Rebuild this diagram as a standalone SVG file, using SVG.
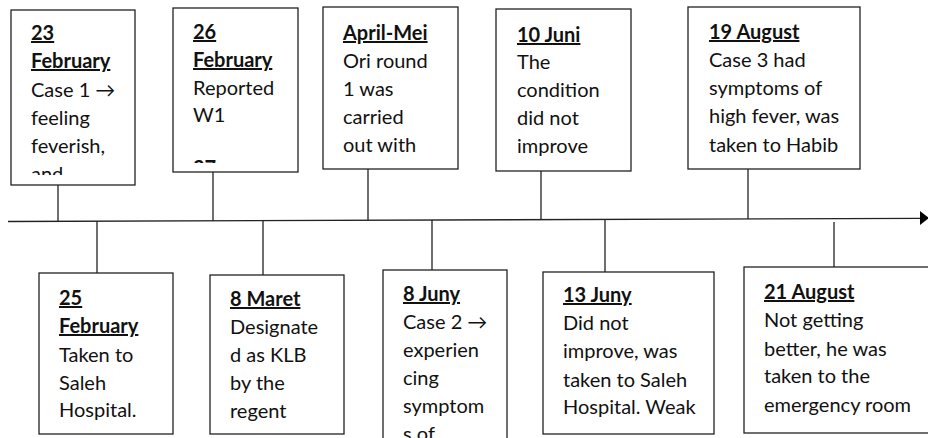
<svg xmlns="http://www.w3.org/2000/svg" width="928" height="438" viewBox="0 0 928 438">
<style>
.box{fill:#fff;stroke:#222;stroke-width:1.3}
.con{stroke:#222;stroke-width:1.3;fill:none}
text{font-family:Lato,"Open Sans",sans-serif;font-size:20px;fill:#111}
.h{font-weight:bold;text-decoration:underline}
</style>
<defs>
<marker id="arr" markerWidth="10" markerHeight="10" refX="8" refY="5" orient="auto" markerUnits="userSpaceOnUse"><path d="M0,-2 L10,5 L0,12 Z" fill="#000"/></marker>
<clipPath id="c1"><rect x="11" y="10" width="124" height="165"/></clipPath>
<clipPath id="c2"><rect x="173" y="8" width="125" height="155"/></clipPath>
<clipPath id="c8"><rect x="383" y="270" width="124" height="168"/></clipPath>
<clipPath id="c10"><rect x="744" y="267" width="190" height="158"/></clipPath>
</defs>
<g id="connectors">
<line class="con" x1="8" y1="221.5" x2="921" y2="218.3"/>
<path d="M920,211 L929,218 L920,225 Z" fill="#000"/>
<line class="con" x1="58" y1="185" x2="58" y2="221"/>
<line class="con" x1="213" y1="172" x2="213" y2="221"/>
<line class="con" x1="368" y1="169" x2="368" y2="220"/>
<line class="con" x1="541" y1="171" x2="541" y2="220"/>
<line class="con" x1="748" y1="169" x2="748" y2="219"/>
<line class="con" x1="97" y1="221" x2="97" y2="273"/>
<line class="con" x1="263" y1="221" x2="263" y2="275"/>
<line class="con" x1="432" y1="220" x2="432" y2="270"/>
<line class="con" x1="605" y1="220" x2="605" y2="272"/>
<line class="con" x1="834" y1="222" x2="834" y2="267"/>
</g>
<g id="n1">
<rect class="box" x="11" y="10" width="124" height="175"/>
<g clip-path="url(#c1)">
<text x="31" y="40" class="h">23</text>
<text x="31" y="68" class="h">February</text>
<text x="31" y="97">Case 1 →</text>
<text x="31" y="125">feeling</text>
<text x="31" y="153">feverish,</text>
<text x="31" y="181">and</text>
</g>
</g>
<g id="n2">
<rect class="box" x="173" y="8" width="125" height="164"/>
<g clip-path="url(#c2)">
<text x="193" y="39" class="h">26</text>
<text x="193" y="67" class="h">February</text>
<text x="193" y="95">Reported</text>
<text x="193" y="122">W1</text>
<text x="193" y="175" class="h">27</text>
</g>
</g>
<g id="n3">
<rect class="box" x="323" y="7" width="135" height="162"/>
<text x="343" y="40" class="h">April-Mei</text>
<text x="343" y="68">Ori round</text>
<text x="343" y="96">1 was</text>
<text x="343" y="124">carried</text>
<text x="343" y="152">out with</text>
</g>
<g id="n4">
<rect class="box" x="496" y="9" width="135" height="162"/>
<text x="517" y="42" class="h">10 Juni</text>
<text x="517" y="69">The</text>
<text x="517" y="97">condition</text>
<text x="517" y="125">did not</text>
<text x="517" y="153">improve</text>
</g>
<g id="n5">
<rect class="box" x="688" y="7" width="172" height="162"/>
<text x="709" y="39" class="h">19 August</text>
<text x="709" y="67">Case 3 had</text>
<text x="709" y="95">symptoms of</text>
<text x="709" y="123">high fever, was</text>
<text x="709" y="152">taken to Habib</text>
</g>
<g id="n6">
<rect class="box" x="39" y="273" width="134" height="161"/>
<text x="59" y="305" class="h">25</text>
<text x="59" y="333" class="h">February</text>
<text x="59" y="362">Taken to</text>
<text x="59" y="390">Saleh</text>
<text x="59" y="417">Hospital.</text>
</g>
<g id="n7">
<rect class="box" x="210" y="275" width="134" height="159"/>
<text x="230" y="306" class="h">8 Maret</text>
<text x="230" y="334">Designate</text>
<text x="230" y="362">d as KLB</text>
<text x="230" y="390">by the</text>
<text x="230" y="418">regent</text>
</g>
<g id="n8">
<rect class="box" x="383" y="270" width="124" height="180"/>
<g clip-path="url(#c8)">
<text x="403" y="301" class="h">8 Juny</text>
<text x="403" y="329">Case 2 →</text>
<text x="403" y="357">experien</text>
<text x="403" y="385">cing</text>
<text x="403" y="413">symptom</text>
<text x="403" y="441">s of</text>
</g>
</g>
<g id="n9">
<rect class="box" x="543" y="272" width="171" height="162"/>
<text x="563" y="302" class="h">13 Juny</text>
<text x="563" y="330">Did not</text>
<text x="563" y="358">improve, was</text>
<text x="563" y="387">taken to Saleh</text>
<text x="563" y="414">Hospital. Weak</text>
</g>
<g id="n10">
<rect class="box" x="744" y="267" width="200" height="166"/>
<text x="764" y="299" class="h">21 August</text>
<text x="764" y="327">Not getting</text>
<text x="764" y="356">better, he was</text>
<text x="764" y="383">taken to the</text>
<text x="764" y="412">emergency room</text>
</g>
</svg>
